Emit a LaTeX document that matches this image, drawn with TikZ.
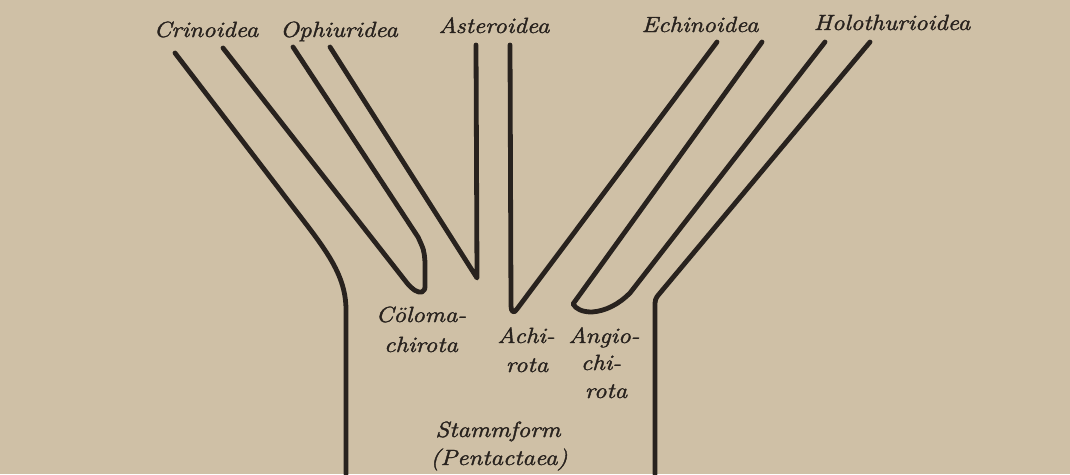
\documentclass[tikz,border=0pt]{standalone}
\usepackage{fontspec}
\newfontfamily\labfont{Latin Modern Roman}[ItalicFeatures={FakeBold=1.6}]
\definecolor{paper}{RGB}{207,192,166}
\definecolor{ink}{RGB}{40,34,30}
\tikzset{
  branch/.style={draw=ink, line width=4.8pt, line cap=round, line join=round},
  lab/.style={anchor=base, inner sep=0pt, text=ink, xscale=1.14,
    font=\labfont\fontsize{22}{26}\selectfont\itshape},
}
\begin{document}
\begin{tikzpicture}[x=1pt,y=-1pt]
\fill[paper] (0,0) rectangle (1070,474);
\useasboundingbox (0,0) rectangle (1070,474);
% coordinates
\coordinate (t1) at (175,53);
\coordinate (t2) at (223,48);
\coordinate (t3) at (293,47);
\coordinate (t4) at (330,47);
\coordinate (t5) at (476,45);
\coordinate (t6) at (510,45);
\coordinate (t7) at (717,42);
\coordinate (t8) at (762,42);
\coordinate (t9) at (825,42);
\coordinate (t10) at (870,42);
\coordinate (b1) at (346,474);
\coordinate (b10) at (655,474);
% left trunk line
\path[branch] (t1) -- (280,190) .. controls (320,243) and (346,270) .. (346,310) -- (b1);
% Coelomachirota fork
\path[branch] (t2) -- (407,283) .. controls (412,289) and (417,293) .. (422,292)
   .. controls (425,290) .. (425,283) -- (425,262) .. controls (424,250) .. (418,237) -- (t3);
% Asteroidea / Ophiuridea fork
\path[branch] (t4) -- (477,278) -- (t5);
% Achirota
\path[branch] (t6) -- (511,306) .. controls (511,312) and (514,314) .. (517,309) -- (t7);
% Angiochirota fork
\path[branch] (t8) -- (573,304) .. controls (576,309) and (582,312) .. (592,312)
   .. controls (606,311) and (619,304) .. (630,293) -- (t9);
% right trunk line
\path[branch] (t10) -- (660,293) .. controls (655,299) .. (655,308) -- (b10);
% labels
\node[lab] (crin) at (206,37) {Crinoidea};
\node[lab] (ophi) at (339,37) {Ophiuridea};
\node[lab] (aste) at (494,33) {Asteroidea};
\node[lab] (echi) at (700,32) {Echinoidea};
\node[lab] (holo) at (892,30) {Holothurioidea};
\node[lab] (col1) at (421,322) {Cöloma-};
\node[lab] (col2) at (421,352) {chirota};
\node[lab] (ach1) at (526,343) {Achi-};
\node[lab] (ach2) at (527,372) {rota};
\node[lab] (ang1) at (604,343) {Angio-};
\node[lab] (ang2) at (601,370) {chi-};
\node[lab] (ang3) at (606,398) {rota};
\node[lab] (sta1) at (498,437) {Stammform};
\node[lab] (sta2) at (499,465) {(Pentactaea)};
\end{tikzpicture}
\end{document}
